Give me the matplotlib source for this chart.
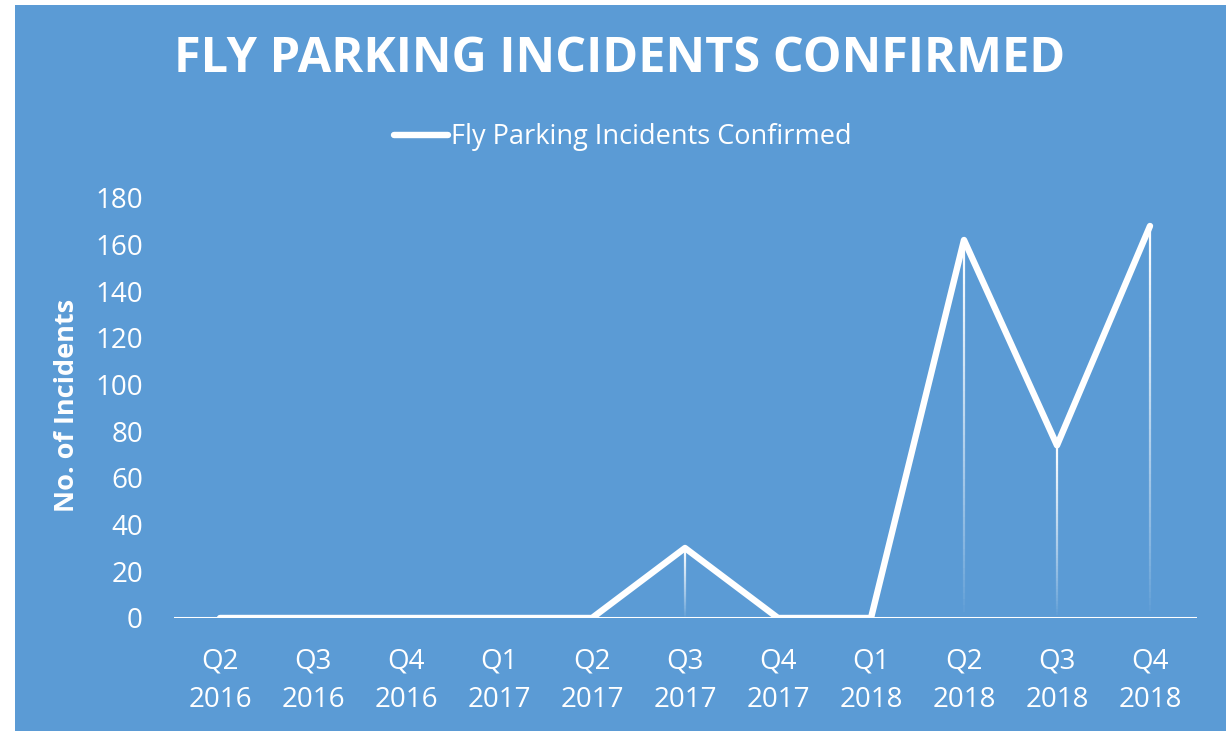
import matplotlib
matplotlib.use("Agg")
import matplotlib.pyplot as plt
import numpy as np
from matplotlib.collections import LineCollection
from matplotlib.patches import Rectangle

quarters = ["Q2\n2016", "Q3\n2016", "Q4\n2016", "Q1\n2017", "Q2\n2017", "Q3\n2017",
            "Q4\n2017", "Q1\n2018", "Q2\n2018", "Q3\n2018", "Q4\n2018"]
incidents = [0, 0, 0, 0, 0, 30, 0, 0, 162, 74, 168]
yticks = [0, 20, 40, 60, 80, 100, 120, 140, 160, 180]

BLUE = "#5B9BD5"
plt.rcParams['font.family'] = ['Open Sans', 'DejaVu Sans']

fig = plt.figure(figsize=(12.26, 7.31), dpi=100)
fig.patch.set_facecolor("white")
fig.add_artist(Rectangle((15/1226, 0), 1 - 15/1226, 1 - 5/731, transform=fig.transFigure,
                         facecolor=BLUE, edgecolor="none", zorder=-10))

ax = fig.add_axes([173.5/1226, 1 - 618/731, (1196.5-173.5)/1226, (618-198)/731])
ax.set_facecolor("none")
x = np.arange(len(quarters))

# gradient drop lines
for xi, yi in zip(x, incidents):
    if yi <= 0:
        continue
    n = 60
    ys = np.linspace(0, yi, n + 1)
    segs = [[(xi, ys[k]), (xi, ys[k+1])] for k in range(n)]
    alphas = np.linspace(0.0, 1.0, n) ** 0.8
    cols = [(1, 1, 1, a) for a in alphas]
    ax.add_collection(LineCollection(segs, colors=cols, linewidths=1.6, zorder=2))

ax.axhline(0, color="white", lw=2.2, zorder=1)
line, = ax.plot(x, incidents, color="white", lw=4.6, solid_joinstyle="round",
                solid_capstyle="round", zorder=3, label="Fly Parking Incidents Confirmed")

ax.set_xlim(-0.5, len(quarters) - 0.5)
ax.set_ylim(0, 180)
ax.set_yticks(yticks)
ax.set_xticks(x)
ax.set_xticklabels(quarters, linespacing=1.5)
ax.tick_params(axis="both", length=0, colors="white", labelsize=20)
ax.tick_params(axis="x", pad=21)
ax.tick_params(axis="y", pad=22)
for s in ax.spines.values():
    s.set_visible(False)

ax.set_ylabel("No. of Incidents", color="white", fontsize=19.5, fontweight="bold")
ax.yaxis.set_label_coords(-0.091, 0.505)

fig.text(620/1226, 1 - 60/731, "FLY PARKING INCIDENTS CONFIRMED", ha="center", va="center",
         color="white", fontsize=35, fontweight="bold")

leg = fig.legend(handles=[line], loc="center", bbox_to_anchor=(623/1226, 1 - 137/731),
                 frameon=False, fontsize=19.5, handlelength=2.0, handletextpad=0.1,
                 labelcolor="white")

fig.savefig("out.png", dpi=100, facecolor=fig.get_facecolor())
